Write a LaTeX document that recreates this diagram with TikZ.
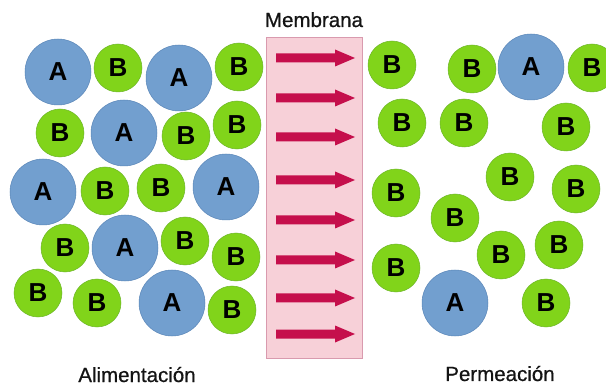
\documentclass[tikz,border=0pt]{standalone}
\usepackage{fontspec}
\setmainfont{Liberation Sans}
\newfontfamily\capfont{Liberation Sans}[FakeBold=0.7]
\definecolor{molA}{HTML}{729FCF}
\definecolor{molAline}{HTML}{5A86B8}
\definecolor{molB}{HTML}{81D41A}
\definecolor{molBline}{HTML}{6DB52A}
\definecolor{membfill}{HTML}{F7D0D8}
\definecolor{membline}{HTML}{D99AAE}
\definecolor{flow}{HTML}{C50F4C}
\begin{document}
\begin{tikzpicture}[x=1pt,y=-1pt,
  molecule/.style={circle, inner sep=0pt, font=\fontsize{26}{26}\selectfont\bfseries, text=black, line width=0.5pt},
  ma/.style={molecule, fill=molA, draw=molAline, minimum size=66pt},
  mb/.style={molecule, fill=molB, draw=molBline, minimum size=48pt},
  caption/.style={font=\capfont\fontsize{20.5}{24}\selectfont, text=black!92, anchor=base},
  flowarrow/.style={fill=flow, draw=none}]
\useasboundingbox (0,0) rectangle (606,385);

% membrane
\node[draw=membline, fill=membfill, line width=0.8pt, minimum width=96pt, minimum height=321pt, inner sep=0pt] (membrane) at (314,197.5) {};
\node[caption] (title) at (314,27) {Membrana};

% flow arrows through the membrane
\foreach \y [count=\i] in {58,98,137,180,220,260,298,334}
  \fill[flowarrow] (276,\y-4.5) -- (335,\y-4.5) -- (335,\y-8.5) -- (355,\y) -- (335,\y+8.5) -- (335,\y+4.5) -- (276,\y+4.5) -- cycle;

% feed side
\node[ma] (f1) at (58,72) {A};
\node[mb] (f2) at (118,68) {B};
\node[ma] (f3) at (179,78) {A};
\node[mb] (f4) at (239,67) {B};
\node[mb] (f5) at (60,133) {B};
\node[ma] (f6) at (124,133) {A};
\node[mb] (f7) at (186,136) {B};
\node[mb] (f8) at (237,125) {B};
\node[ma] (f9) at (43,192) {A};
\node[mb] (f10) at (105,191) {B};
\node[mb] (f11) at (161,188) {B};
\node[ma] (f12) at (226,187) {A};
\node[mb] (f13) at (65,248) {B};
\node[ma] (f14) at (125,248) {A};
\node[mb] (f15) at (185,241) {B};
\node[mb] (f16) at (236,257) {B};
\node[mb] (f17) at (38,293) {B};
\node[mb] (f18) at (97,303) {B};
\node[ma] (f19) at (172,303) {A};
\node[mb] (f20) at (232,310) {B};

% permeate side
\node[mb] (p1) at (392,65) {B};
\node[mb] (p2) at (472,69) {B};
\node[ma] (p3) at (531,67) {A};
\node[mb] (p4) at (592,68) {B};
\node[mb] (p5) at (402,123) {B};
\node[mb] (p6) at (464,123) {B};
\node[mb] (p7) at (566,127) {B};
\node[mb] (p8) at (510,177) {B};
\node[mb] (p9) at (576,189) {B};
\node[mb] (p10) at (396,193) {B};
\node[mb] (p11) at (455,218) {B};
\node[mb] (p12) at (501,255) {B};
\node[mb] (p13) at (559,245) {B};
\node[mb] (p14) at (396,268) {B};
\node[ma] (p15) at (455,303) {A};
\node[mb] (p16) at (546,303) {B};

% captions
\node[caption] (feed) at (137,382) {Alimentación};
\node[caption] (perm) at (500,381) {Permeación};
\end{tikzpicture}
\end{document}
